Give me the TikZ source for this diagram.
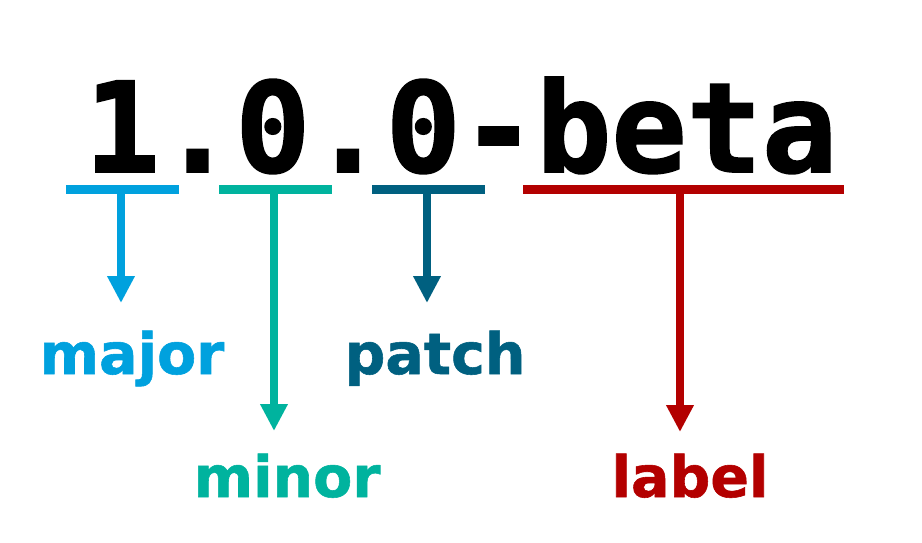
\documentclass[tikz,border=0pt]{standalone}
\usepackage{fontspec}
\setmainfont{DejaVu Sans}[BoldFeatures={FakeBold=1}]
\newfontfamily\versionfont{DejaVuSansMono-Bold.ttf}[FakeBold=1.5]
\usetikzlibrary{arrows.meta}
\definecolor{majorblue}{RGB}{0,161,222}
\definecolor{minorteal}{RGB}{0,179,158}
\definecolor{patchblue}{RGB}{0,96,128}
\definecolor{labelred}{RGB}{179,0,0}
\begin{document}
\begin{tikzpicture}[x=1pt, y=-1pt,
    bar/.style={line width=9pt},
    pointer/.style={line width=8.5pt, -{Triangle[width=26pt,length=27pt]}},
    part/.style={font=\fontsize{57}{57}\selectfont\bfseries, inner sep=0pt, anchor=base}]
  \useasboundingbox (0,0) rectangle (922,543);
  % version string
  \node [inner sep=0pt, anchor=base west, font=\versionfont\fontsize{125}{125}\selectfont] (version) at (84.5,172) {1.0.0-beta};
  % underlines
  \draw [bar, majorblue] (66,189.5) -- (179,189.5);
  \draw [bar, minorteal] (219,189.5) -- (332,189.5);
  \draw [bar, patchblue] (372,189.5) -- (485,189.5);
  \draw [bar, labelred] (523,189.5) -- (844,189.5);
  \coordinate (majorbar) at (121,189.5);
  \coordinate (minorbar) at (274,189.5);
  \coordinate (patchbar) at (427,189.5);
  \coordinate (labelbar) at (680,189.5);
  \coordinate (majortip) at (121,303);
  \coordinate (minortip) at (274,431);
  \coordinate (patchtip) at (427,303);
  \coordinate (labeltip) at (680,432);
  % parts
  \node [part, text=majorblue] (major) at (132,374) {major};
  \node [part, text=patchblue] (patch) at (435,374) {patch};
  \node [part, text=minorteal] (minor) at (287,497) {minor};
  \node [part, text=labelred] (label) at (690,497) {label};
  % arrows
  \draw [pointer, majorblue] (majorbar) -- (majortip);
  \draw [pointer, minorteal] (minorbar) -- (minortip);
  \draw [pointer, patchblue] (patchbar) -- (patchtip);
  \draw [pointer, labelred] (labelbar) -- (labeltip);
\end{tikzpicture}
\end{document}
